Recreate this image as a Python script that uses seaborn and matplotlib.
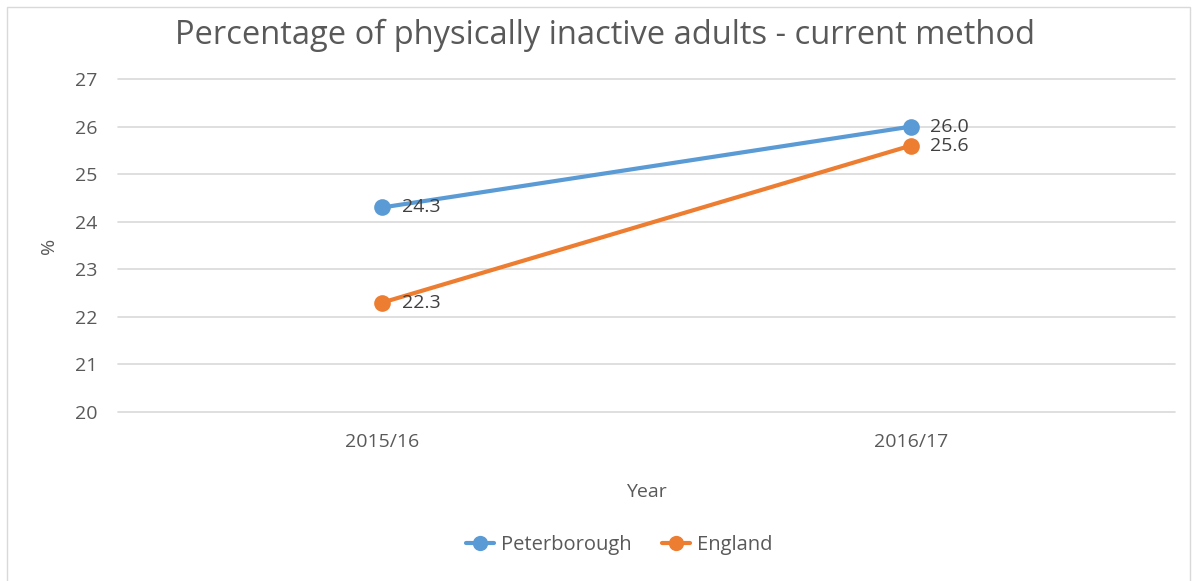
import matplotlib
matplotlib.use("Agg")
import matplotlib.pyplot as plt
import seaborn as sns
import pandas as pd
from matplotlib.patches import Rectangle
from matplotlib.lines import Line2D

years = ["2015/16", "2016/17"]
peterborough = [24.3, 26.0]
england = [22.3, 25.6]
series_names = ["Peterborough", "England"]
colors = ["#5B9BD5", "#ED7D31"]

df = pd.DataFrame({
    "Year": years * 2,
    "value": peterborough + england,
    "Area": [series_names[0]] * len(years) + [series_names[1]] * len(years),
})
df["x"] = df["Year"].map({y: i for i, y in enumerate(years)})

sns.set_theme(style="white")
plt.rcParams["font.family"] = ["Open Sans", "DejaVu Sans"]

fig = plt.figure(figsize=(11.95, 5.81), dpi=100)
ax = fig.add_axes([0.0987, 0.2909, 0.8845, 0.573])

sns.lineplot(data=df, x="x", y="value", hue="Area", palette=colors,
             marker="o", markersize=12, markeredgewidth=0, linewidth=3,
             ax=ax, legend=False)

# value labels to the right of each point
for vals, name in zip([peterborough, england], series_names):
    for i, v in enumerate(vals):
        ax.annotate(f"{v:.1f}", (i, v), xytext=(14, 0), textcoords="offset points",
                    va="center", ha="left", fontsize=14, color="#404040")

ax.set_xlim(-0.5, 1.5)
ax.set_ylim(20, 27)
ax.set_xticks(range(len(years)))
ax.set_xticklabels(years)
ax.set_yticks(range(20, 28))
ax.grid(axis="y", color="#d9d9d9", linewidth=1.2)
for gl in ax.get_ygridlines():
    gl.set_clip_on(False)
ax.set_axisbelow(True)
for s in ax.spines.values():
    s.set_visible(False)
ax.tick_params(axis="both", colors="#595959", labelsize=14, length=0)
ax.tick_params(axis="y", pad=15)
ax.tick_params(axis="x", pad=15)

ax.set_xlabel("Year", fontsize=14, color="#595959", labelpad=23)
ax.set_ylabel("%", fontsize=14, color="#595959", labelpad=12)

fig.suptitle("Percentage of physically inactive adults - current method",
             x=0.506, y=0.968, fontsize=23.5, color="#595959")

# legend
handles = [Line2D([0], [0], color=c, lw=3, marker="o", markersize=11,
                  markeredgewidth=0) for c in colors]
fig.legend(handles, series_names, loc="center", bbox_to_anchor=(0.518, 0.062),
           ncol=2, frameon=False, fontsize=14.5, labelcolor="#595959",
           handlelength=1.4, columnspacing=1.5, handletextpad=0.35)

# chart frame
fig.patches.append(Rectangle((0.006, -0.05), 0.99, 1.038, transform=fig.transFigure,
                             fill=False, edgecolor="#d9d9d9", linewidth=1))

fig.savefig("out.png", dpi=100)
